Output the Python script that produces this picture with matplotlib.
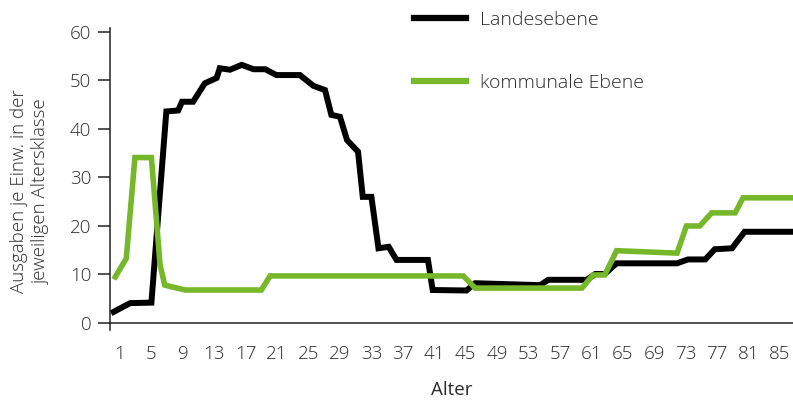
import matplotlib
matplotlib.use("Agg")
import matplotlib.pyplot as plt

plt.rcParams['font.family'] = ['Open Sans', 'DejaVu Sans']
plt.rcParams['font.weight'] = 'light'

land_alter = [0.2, 2.3, 5.0, 6.9, 8.4, 8.9, 10.3, 11.8, 13.3, 13.7, 15.0, 16.5, 18.0,
              19.5, 20.9, 23.9, 25.6, 27.1, 27.9, 29.0, 29.9, 31.3, 31.9, 33.0,
              33.9, 35.2, 36.2, 40.2, 40.8, 45.1, 46.2, 54.5, 55.5, 60.4, 61.5,
              62.7, 64.2, 71.9, 73.3, 75.5, 76.7, 78.9, 80.5, 87.0]
land_werte = [2.3, 4.1, 4.2, 43.6, 43.8, 45.6, 45.6, 49.4, 50.5, 52.5, 52.2, 53.2, 52.3,
              52.3, 51.1, 51.1, 48.9, 48.0, 42.9, 42.5, 37.7, 35.3, 26.0, 26.0,
              15.4, 15.7, 13.0, 13.0, 6.8, 6.7, 8.2, 7.8, 8.9, 8.9, 10.1,
              10.1, 12.3, 12.3, 13.1, 13.1, 15.2, 15.4, 18.8, 18.8]

# kommunale Ebene (gruen)
komm_alter = [0.4, 1.8, 2.9, 5.0, 6.1, 6.7, 9.3, 19.0, 20.1, 44.7, 46.2, 59.8, 61.2,
              62.7, 64.2, 71.9, 73.1, 74.8, 76.3, 79.3, 80.3, 87.0]
komm_werte = [9.5, 13.3, 34.1, 34.1, 12.0, 7.8, 6.8, 6.8, 9.7, 9.7, 7.2, 7.2, 9.9,
              9.9, 14.9, 14.4, 20.0, 20.0, 22.7, 22.7, 25.8, 25.8]

x_ticks = list(range(1, 86, 4))
y_ticks = [0, 10, 20, 30, 40, 50, 60]

text_col = '#2b2b2b'
gruen = '#76b82a'
fs = 13.5

fig = plt.figure(figsize=(7.93, 4.01), dpi=100)
ax = fig.add_axes([110/793, 78/401, 683/793, 295/401])

ax.plot(land_alter, land_werte, color='black', lw=4.3, label='Landesebene',
        solid_joinstyle='miter')
ax.plot(komm_alter, komm_werte, color=gruen, lw=4.0, label='kommunale Ebene',
        solid_joinstyle='miter')

ax.set_xlim(-0.27, 86.66)
ax.set_ylim(0, 60.8)
ax.set_xticks(x_ticks)
ax.set_xticklabels([str(t) for t in x_ticks])
ax.set_yticks(y_ticks)

for s in ['top', 'right']:
    ax.spines[s].set_visible(False)
for s in ['left', 'bottom']:
    ax.spines[s].set_color('#222222')
    ax.spines[s].set_linewidth(1.1)

ax.tick_params(axis='x', length=0, pad=16, labelsize=fs, labelcolor=text_col)
ax.tick_params(axis='y', length=8.5, width=1.1, color='#222222', pad=5,
               labelsize=fs, labelcolor=text_col)
# kleiner Ueberstand der y-Achse unter die x-Achse
ax.plot([0, 0], [0, -0.025], transform=ax.transAxes, color='#222222', lw=1.1,
        clip_on=False)

ax.set_xlabel('Alter', fontsize=fs, color=text_col, labelpad=13)
fig.text(30/793, 1 - 191/401, 'Ausgaben je Einw. in der\njeweiligen Altersklasse',
         rotation=90, ha='center', va='center', multialignment='center',
         fontsize=fs, color=text_col, linespacing=1.25)

leg = fig.legend(loc='upper left', bbox_to_anchor=(414/793, 1 - 11/401),
                 frameon=False, fontsize=14, handlelength=2.7, handletextpad=0.7,
                 labelspacing=2.3, borderpad=0, borderaxespad=0)
for t in leg.get_texts():
    t.set_color(text_col)
for h in leg.legend_handles:
    h.set_linewidth(4.5)

fig.savefig('out.png', dpi=100)
